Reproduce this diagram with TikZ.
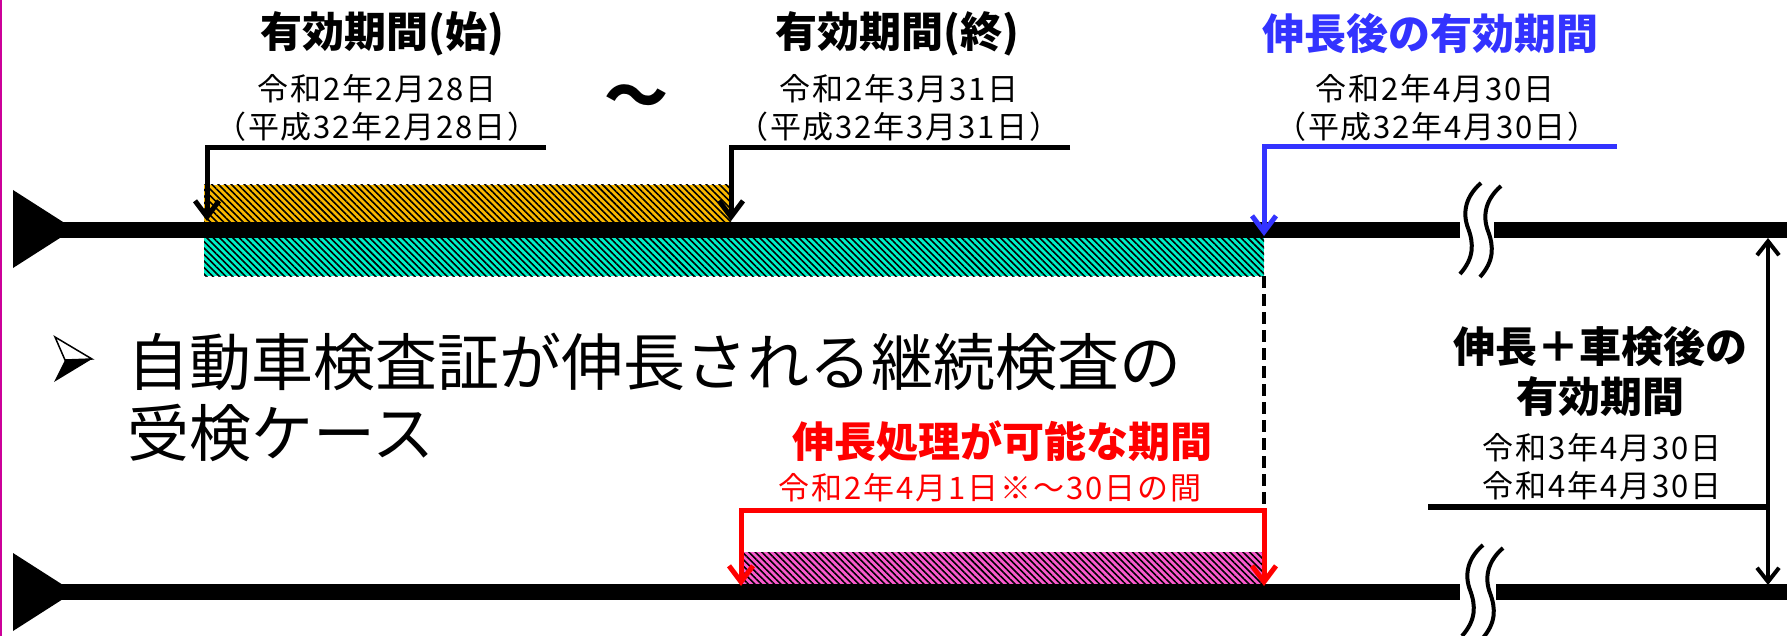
\documentclass[tikz,border=0pt]{standalone}
\usepackage{fontspec}
\setmainfont{Noto Sans CJK JP}
\newfontfamily\datefont{Noto Sans CJK JP}[LetterSpace=6]
\usetikzlibrary{arrows.meta,patterns.meta}
\definecolor{hatchorange}{RGB}{250,185,0}
\definecolor{hatchteal}{RGB}{0,240,200}
\definecolor{hatchpink}{RGB}{250,90,205}
\definecolor{titleblue}{RGB}{51,51,255}
\definecolor{markred}{RGB}{255,0,0}
\definecolor{edgemagenta}{RGB}{204,0,153}
\begin{document}
\begin{tikzpicture}[x=1pt,y=-1pt,
  titletext/.style={font=\fontsize{42}{48}\selectfont\bfseries, inner sep=0pt},
  datetext/.style={font=\fontsize{31}{36}\selectfont\datefont, inner sep=0pt},
  bigtext/.style={font=\fontsize{62}{70}\selectfont, inner sep=0pt, anchor=west},
  hatchbar/.style={fill=#1, postaction={pattern={Lines[angle=-45,distance=4.6pt,line width=1.6pt]}, pattern color=black}},
  timeline/.style={line width=16pt, black},
  breakcurve/.style={line width=4pt, black, line cap=butt},
  bracketline/.style={line width=5pt, -{Straight Barb[length=16pt,width=24pt]}},
  spanarrow/.style={line width=4pt, {Straight Barb[length=14pt,width=22pt]}-{Straight Barb[length=14pt,width=22pt]}},
  dashline/.style={line width=3.5pt, dash pattern=on 12pt off 6pt}
]
\useasboundingbox (0,0) rectangle (1787,636);
% slide edge
\draw[edgemagenta, line width=2pt] (1,0) -- (1,636);

% hatched bars
\path[hatchbar=hatchorange] (204,185) rectangle (731,222);
\path[hatchbar=hatchteal] (204,238) rectangle (1264,276);
\path[hatchbar=hatchpink] (741,552) rectangle (1264,586);

% dashed guide
\coordinate (dTop) at (1264,276);
\coordinate (dBot) at (1264,510);
\draw[dashline] (dTop) -- (dBot);

% top timeline
\fill (13,190) -- (74,229) -- (13,268) -- cycle;
\draw[timeline] (60,230) -- (1460,230);
\draw[timeline] (1494,230) -- (1787,230);
\draw[breakcurve] (1481,183) .. controls (1466,196) and (1462,212) .. (1468,228) .. controls (1474,244) and (1474,258) .. (1460,274);
\draw[breakcurve] (1501,186) .. controls (1486,199) and (1482,215) .. (1488,231) .. controls (1494,247) and (1494,261) .. (1480,277);

% bottom timeline
\fill (13,553) -- (74,592) -- (13,631) -- cycle;
\draw[timeline] (60,592) -- (1460,592);
\draw[timeline] (1496,592) -- (1787,592);
\draw[breakcurve] (1483,545) .. controls (1468,558) and (1464,574) .. (1470,590) .. controls (1476,606) and (1476,620) .. (1462,636);
\draw[breakcurve] (1503,548) .. controls (1488,561) and (1484,577) .. (1490,593) .. controls (1496,609) and (1496,623) .. (1482,639);

% bracket arrows
\coordinate (sA) at (546,148);
\coordinate (sB) at (207,221);
\draw[bracketline] (sA) -| (sB);
\coordinate (eA) at (1070,148);
\coordinate (eB) at (731,221);
\draw[bracketline] (eA) -| (eB);
\coordinate (bA) at (1617,147);
\coordinate (bB) at (1264,236);
\draw[bracketline, titleblue] (bA) -| (bB);
\coordinate (rL) at (741,586);
\coordinate (rM) at (1000,510);
\coordinate (rR) at (1264,586);
\draw[markred, line width=5pt, {Straight Barb[length=16pt,width=24pt]}-{Straight Barb[length=16pt,width=24pt]}] (rL) |- (rM) -| (rR);

% right span
\coordinate (vTop) at (1768,238);
\coordinate (vBot) at (1768,585);
\draw[spanarrow] (vTop) -- (vBot);
\coordinate (hL) at (1428,507);
\coordinate (hR) at (1768,507);
\draw[line width=6pt] (hL) -- (hR);

% bullet
\draw[line width=1.5pt, fill=white, line join=miter] (55,337) -- (92,359) -- (65,360) -- cycle;
\fill (65,360) -- (92,359) -- (54,382) -- cycle;

% texts
\node[titletext] (t1) at (382,34) {有効期間(始)};
\node[datetext] (d1a) at (377,89) {令和2年2月28日};
\node[datetext] (d1b) at (377,127) {（平成32年2月28日）};
\node[font=\fontsize{64}{64}\selectfont\bfseries, inner sep=0pt] (tl) at (636,102) {～};
\node[titletext] (t2) at (897,34) {有効期間(終)};
\node[datetext] (d2a) at (899,89) {令和2年3月31日};
\node[datetext] (d2b) at (899,127) {（平成32年3月31日）};
\node[titletext, text=titleblue] (t3) at (1430,34) {伸長後の有効期間};
\node[datetext] (d3a) at (1435,89) {令和2年4月30日};
\node[datetext] (d3b) at (1437,127) {（平成32年4月30日）};

\node[bigtext] (m1) at (127,362) {自動車検査証が伸長される継続検査の};
\node[bigtext] (m2) at (127,433) {受検ケース};

\node[titletext, text=markred] (r1) at (1002,441) {伸長処理が可能な期間};
\node[datetext, text=markred] (r2) at (990,488) {令和2年4月1日※～30日の間};

\node[titletext] (k1) at (1600,347) {伸長＋車検後の};
\node[titletext] (k2) at (1600,397) {有効期間};
\node[datetext] (k3) at (1602,448) {令和3年4月30日};
\node[datetext] (k4) at (1602,486) {令和4年4月30日};
\end{tikzpicture}
\end{document}
